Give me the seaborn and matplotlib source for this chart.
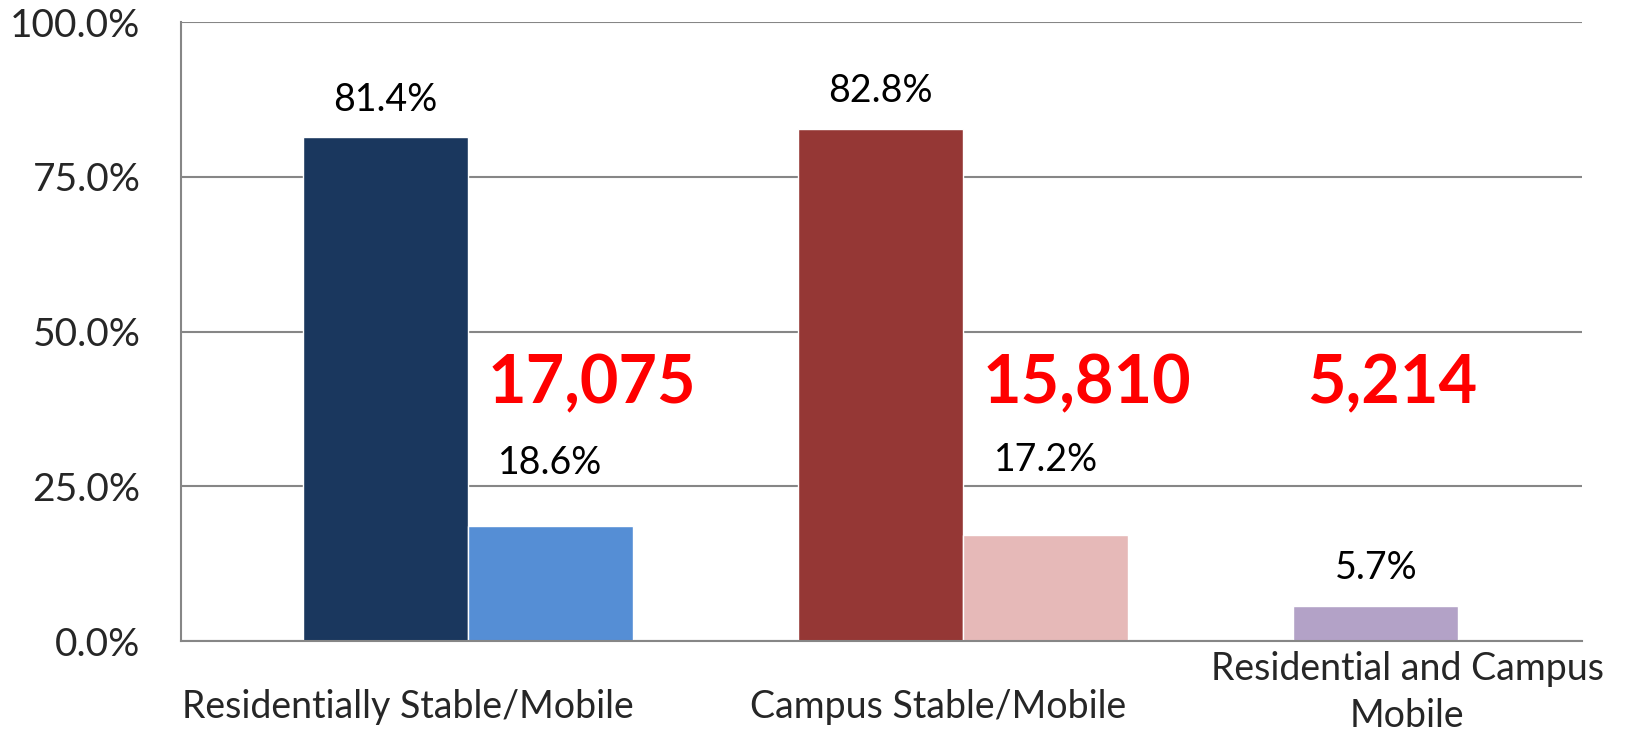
import pandas as pd
import numpy as np
import seaborn as sns
import matplotlib.pyplot as plt
import matplotlib.transforms as mtransforms

# data
groups = ['Residentially Stable/Mobile', 'Campus Stable/Mobile', 'Residential and Campus\nMobile']
bar_group = [0, 0, 1, 1, 2]
bar_slot = [-1, 1, -1, 1, -1]          # left / right slot within a group
bar_names = ['Res stable', 'Res mobile', 'Campus stable', 'Campus mobile', 'Res and campus mobile']
bar_values = [81.4, 18.6, 82.8, 17.2, 5.7]
bar_colors = ['#1A375E', '#558ED5', '#953735', '#E6B9B8', '#B3A2C7']
totals = ['17,075', '15,810', '5,214']

sns.set_style('white')
plt.rcParams['font.family'] = ['Lato', 'DejaVu Sans']

fig = plt.figure(figsize=(16.29, 7.36), dpi=100)
ax = fig.add_axes([0.111, 0.129, 0.86, 0.841])

pos = [g + s / 6 for g, s in zip(bar_group, bar_slot)]
df = pd.DataFrame({'pos': pos, 'value': bar_values, 'name': bar_names})
sns.barplot(data=df, x='pos', y='value', hue='name', palette=bar_colors,
            hue_order=bar_names, native_scale=True, dodge=False, width=1.0,
            saturation=1, legend=False, ax=ax)

# value labels above bars (excel lifts the short ones a bit)
label_lift = [14, 32, 14, 41, 14]
for x, v, lift in zip(pos, bar_values, label_lift):
    ax.annotate(f'{v:.1f}%', (x, v), xytext=(0, lift), textcoords='offset points',
                ha='center', va='bottom', fontsize=27, color='black')

# big red counts
total_x = [0.25, 1.25, 1.866]
for x, t in zip(total_x, totals):
    ax.text(x, 41.4, t, ha='center', va='center', fontsize=48,
            fontweight='bold', color='#FF0000')

ax.set_xlim(-0.579, 2.249)
ax.set_ylim(0, 100)
ax.set_yticks([0, 25, 50, 75, 100])
ax.set_yticklabels([f'{t:.1f}%' for t in [0, 25, 50, 75, 100]], fontsize=28)
ax.tick_params(axis='y', length=0, pad=29)
ax.set_xticks([])
ax.set_xlabel('')
ax.set_ylabel('')
ax.grid(axis='y', color='#868686', linewidth=1.5)
ax.set_axisbelow(True)
for side in ['top', 'right']:
    ax.spines[side].set_visible(False)
for side in ['left', 'bottom']:
    ax.spines[side].set_color('#868686')
    ax.spines[side].set_linewidth(1.5)

# category labels
trans = mtransforms.blended_transform_factory(ax.transData, ax.transAxes)
label_x = [-0.12, 0.95, 1.897]
label_y = [-0.107, -0.107, -0.083]
for x, y, g in zip(label_x, label_y, groups):
    ax.text(x, y, g, transform=trans, ha='center', va='center',
            fontsize=27, linespacing=1.4)

fig.savefig('out.png', dpi=100)
